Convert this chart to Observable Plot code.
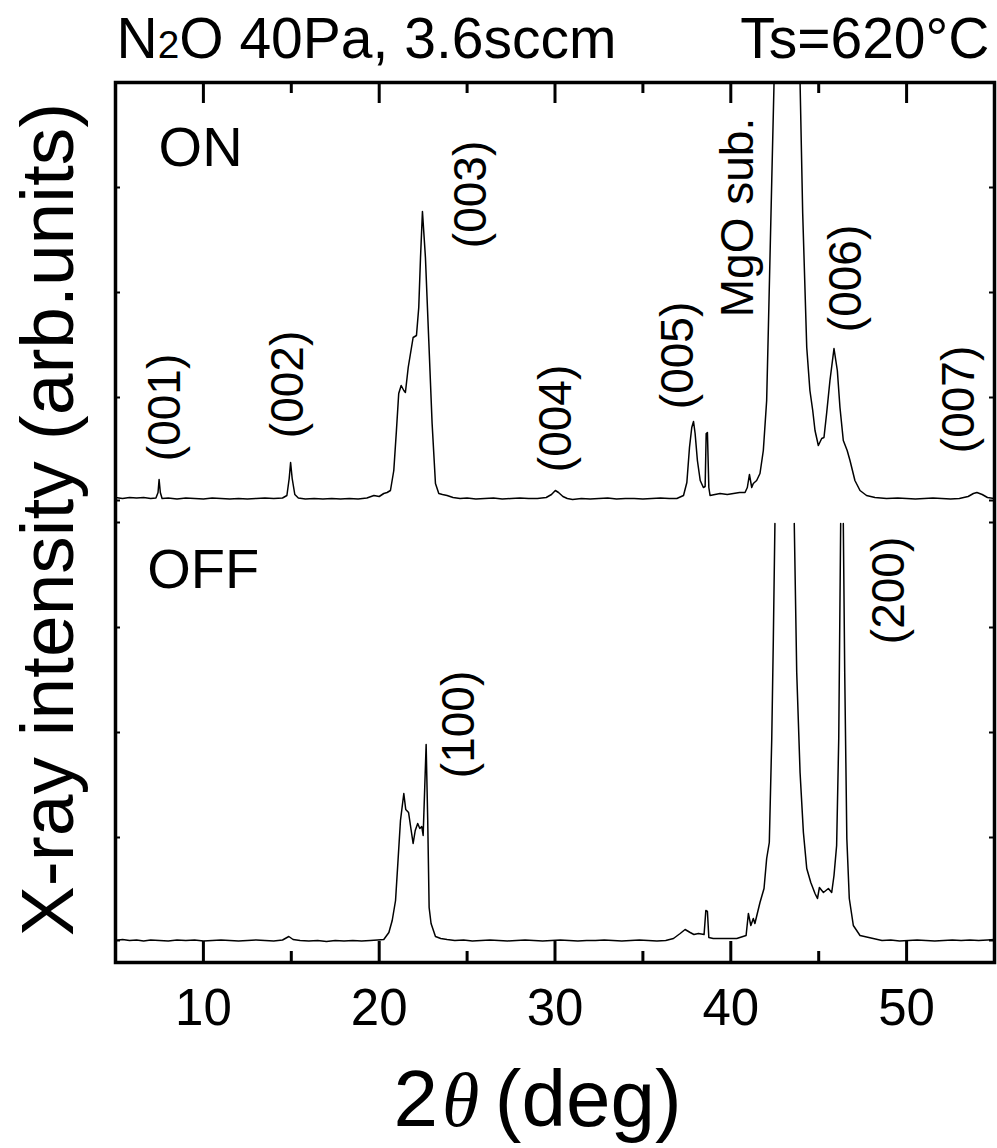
<!DOCTYPE html>
<html><head><meta charset="utf-8">
<script src="https://cdn.jsdelivr.net/npm/d3@7"></script>
<script src="https://cdn.jsdelivr.net/npm/@observablehq/plot@0.6"></script>
<style>html,body{margin:0;padding:0;background:#fff} svg{display:block}</style>
</head><body><div id="chart"></div>
<script>
// ---- data (2θ in degrees, intensity in arbitrary units above each trace's own baseline) ----
const onAngle = [5.0,5.4,5.8,6.2,6.6,7.0,7.3,7.42,7.48,7.55,7.65,8.0,8.5,9.0,9.5,10.0,10.5,11.0,11.5,12.0,12.5,13.0,13.5,14.0,14.5,14.75,14.88,14.96,15.05,15.2,15.4,15.8,16.3,16.8,17.3,17.8,18.3,18.8,19.3,19.7,20.0,20.26,20.45,20.64,20.83,20.98,21.11,21.25,21.40,21.49,21.65,21.78,21.93,22.12,22.25,22.35,22.46,22.63,22.82,23.01,23.2,23.39,23.6,23.86,24.2,24.6,25.0,25.5,26.0,26.5,27.0,27.5,28.0,28.5,29.0,29.5,29.8,30.02,30.2,30.45,30.7,31.0,31.5,32.0,32.5,33.0,33.5,34.0,34.5,35.0,35.5,36.0,36.5,36.93,37.31,37.50,37.65,37.78,37.88,37.97,38.1,38.26,38.44,38.54,38.6,38.67,38.75,38.82,39.1,39.39,39.8,40.15,40.5,40.81,40.94,41.06,41.19,41.28,41.47,41.66,41.85,42.04,42.13,42.33,42.46,43.2,43.94,44.09,44.32,44.5,44.66,44.79,44.98,45.17,45.3,45.45,45.64,45.87,46.06,46.21,46.4,46.62,46.78,47.06,47.35,47.72,48.2,48.86,49.5,50.0,50.5,51.0,51.5,52.0,52.5,53.0,53.5,53.8,54.0,54.3,54.6,55.0];
const onCounts = [1,0,1,0.5,1,0,0.5,6,19,6,0,0.5,-0.5,0.5,0,-0.5,0.5,0,-0.5,0,-0.5,0,0.5,0,0.5,3,20,36,20,4,0.5,-0.5,0,-0.5,0,-0.5,0,-0.5,0.5,3,2,5,6,8,28,68,105,113,108,106,131,145,161,163,191,241,287,241,158,75,15,5,4,3,1,0,0.5,-0.5,0,0.5,-0.5,0,0.5,0,0,1,4,8,6,2,0,-1,0,-0.5,0,0.5,-0.5,0,0,-0.5,0,0.5,0,0,3,16,51,71,77,65,38,18,11,12,65,66,11,3,4,5,4,5,6,6,11,24,11,15,18,25,48,98,165,318,416,1200,416,285,151,108,88,68,53,60,61,85,118,150,128,91,58,48,38,18,8,3,1,0,0.5,0,-0.5,0,0.5,0,-0.5,0,2,5,6,4,1,0];

const offAngle = [5.0,5.4,5.8,6.2,6.6,7.0,7.5,8.0,8.5,9.0,9.5,10.0,10.5,11.0,11.5,12.0,12.5,13.0,13.5,14.0,14.5,14.86,15.1,15.5,16.0,16.5,17.0,17.5,18.0,18.5,19.0,19.5,19.9,20.26,20.55,20.74,20.93,21.06,21.21,21.40,21.51,21.67,21.82,21.93,22.05,22.19,22.31,22.42,22.50,22.59,22.67,22.76,22.84,22.95,23.2,23.5,23.86,24.3,24.8,25.3,25.8,26.3,26.8,27.3,27.8,28.3,28.8,29.3,29.8,30.3,30.8,31.3,31.8,32.3,32.8,33.3,33.8,34.3,34.8,35.3,35.8,36.3,36.74,37.12,37.4,37.69,37.9,38.16,38.48,38.58,38.67,38.75,39.0,39.39,39.8,40.34,40.87,41.0,41.14,41.28,41.37,41.66,41.89,42.04,42.19,42.33,42.42,42.51,43.0,43.61,43.75,43.94,44.13,44.32,44.55,44.79,44.93,45.04,45.27,45.55,45.74,45.87,46.02,46.14,46.25,46.32,46.40,46.48,46.6,46.74,46.97,47.35,48.1,48.6,49.1,49.6,50.1,50.6,51.1,51.6,52.1,52.6,53.1,53.6,54.1,54.6,55.0];
// NaN = trace leaves the lower panel (off scale)
const offCounts = [0,1,0,0.5,-0.5,0.5,0,-0.5,0.5,0,0.5,-0.5,0,0.5,0,-0.5,0,0.5,0,-0.5,0.5,4,1,0,-0.5,0,-1,0,-0.5,0,-0.5,0,0.5,1,8,20,40,77,120,147,131,128,110,97,110,117,112,114,105,153,196,120,33,17,4,2,1,0,0.5,-0.5,0,0.5,0,-0.5,0,0.5,0,-0.5,0,0.5,0,-0.5,0,0,0.5,0,-0.5,0,0.5,0,-0.5,0,2,7,11,8,6,7,6,30,29,3,2,2,2,2,5,27,15,22,17,38,52,82,98,202,302,417,NaN,417,268,168,108,72,58,47,42,53,48,52,48,65,95,202,417,NaN,417,268,102,42,15,5,2,0,0.5,-0.5,0,0.5,0,-0.5,0,0.5,0,0.5,0,0.5,1];

const onBaseline = 464;   // vertical offset of the ON trace
const offBaseline = 22;   // vertical offset of the OFF trace

const majorTicks = [10, 20, 30, 40, 50];
const minorTicks = [5, 15, 25, 35, 45, 55];
const sideTicks = [22, 125, 230, 335, 440, 462, 565, 670, 775];

const peakNames = ["(001)", "(002)", "(003)", "(004)", "(005)", "MgO sub.", "(006)", "(007)", "(100)", "(200)"];
const peakAngle = [8.67, 15.65, 26.06, 30.90, 37.84, 41.25, 47.41, 53.82, 25.38, 49.85];
const peakLevel = [555, 578, 768, 544, 607, 745, 684, 563, 238, 372];

const sampleNames = ["ON", "OFF"];
const sampleAngle = [7.45, 6.8];
const sampleLevel = [797, 375];

const titleLeft = "N2O 40Pa, 3.6sccm";
const titleRight = "Ts=620\u00B0C";
const yTitle = "X-ray intensity (arb.units)";
const xTitle = "2\u03B8 (deg)";

// ---- tables built from the arrays ----
const onData = onAngle.map((a, i) => ({angle: a, value: onCounts[i] + onBaseline}));
const offData = offAngle.map((a, i) => ({angle: a, value: Number.isNaN(offCounts[i]) ? NaN : offCounts[i] + offBaseline}));
const peaks = peakNames.map((t, i) => ({t, angle: peakAngle[i], level: peakLevel[i]}));
const samples = sampleNames.map((t, i) => ({t, angle: sampleAngle[i], level: sampleLevel[i]}));

const W = 997, H = 1148;
const mL = 115, mR = 3, mT = 82, mB = 186;
const pw = W - mL - mR, ph = H - mT - mB;
const FONT = "'Liberation Sans', Arial, sans-serif";

const chart = Plot.plot({
  width: W, height: H,
  marginLeft: mL, marginRight: mR, marginTop: mT, marginBottom: mB,
  style: {fontFamily: FONT, background: "#fff", color: "#000", overflow: "visible"},
  x: {domain: [5, 55]},
  y: {domain: [0, 880], axis: null},
  marks: [
    Plot.line(offData, {x: "angle", y: "value", stroke: "#000", strokeWidth: 1.5, clip: true}),
    Plot.line(onData, {x: "angle", y: "value", stroke: "#000", strokeWidth: 1.5, clip: true}),
    // inward ticks bottom & top
    Plot.ruleX(majorTicks, {x: d => d, insetTop: ph - 21, stroke: "#000", strokeWidth: 3}),
    Plot.ruleX(minorTicks, {x: d => d, insetTop: ph - 11, stroke: "#000", strokeWidth: 3}),
    Plot.ruleX(majorTicks, {x: d => d, insetBottom: ph - 21, stroke: "#000", strokeWidth: 3}),
    Plot.ruleX(minorTicks, {x: d => d, insetBottom: ph - 11, stroke: "#000", strokeWidth: 3}),
    // small inward ticks left & right
    Plot.ruleY(sideTicks, {y: d => d, insetRight: pw - 5, stroke: "#000", strokeWidth: 2}),
    Plot.ruleY(sideTicks, {y: d => d, insetLeft: pw - 5, stroke: "#000", strokeWidth: 2}),
    Plot.frame({stroke: "#000", strokeWidth: 3.5}),
    Plot.axisX({ticks: majorTicks, tickSize: 0, tickPadding: 26, fontSize: 51, label: null, anchor: "bottom"}),
    // peak annotations
    Plot.text(peaks, {x: "angle", y: "level", text: "t", rotate: -90, textAnchor: "middle", lineAnchor: "bottom", fontSize: 46, fill: "#000"}),
    Plot.text(samples, {x: "angle", y: "level", text: "t", textAnchor: "start", lineAnchor: "bottom", fontSize: 56, fill: "#000"}),
    // titles
    Plot.text([titleLeft], {text: d => d, frameAnchor: "top-left", dx: 1, dy: -25, textAnchor: "start", lineAnchor: "bottom", fontSize: 57, fill: "#000", className: "title-left"}),
    Plot.text([titleRight], {text: d => d, frameAnchor: "top-right", dx: -5, dy: -25, textAnchor: "end", lineAnchor: "bottom", fontSize: 57, fill: "#000"}),
    Plot.text([yTitle], {text: d => d, frameAnchor: "left", dx: -43, dy: -3, rotate: -90, textAnchor: "middle", lineAnchor: "bottom", fontSize: 75, fill: "#000"}),
    Plot.text([xTitle], {text: d => d, frameAnchor: "bottom-left", dx: 278, dy: 163, textAnchor: "start", lineAnchor: "bottom", fontSize: 80, fill: "#000", className: "x-title"})
  ]
});
document.getElementById("chart").appendChild(chart);

// rich text: subscript in N2O, italic theta
function rich(el, parts) {
  if (!el) return;
  el.textContent = "";
  for (const [s, attrs] of parts) {
    const t = document.createElementNS("http://www.w3.org/2000/svg", "tspan");
    t.textContent = s;
    for (const k in attrs) t.setAttribute(k, attrs[k]);
    el.appendChild(t);
  }
}
rich(chart.querySelector("g.title-left text"), [["N", {}], ["2", {"font-size": "68%"}], ["O 40Pa, 3.6sccm", {"font-size": "57"}]]);
rich(chart.querySelector("g.x-title text"), [["2", {}], [" ", {"font-size": "14"}], ["\u03B8", {"font-style": "italic", "font-family": "'Liberation Serif', serif", "font-size": "76"}], [" ", {"font-size": "56"}], ["(deg)", {"font-size": "80"}]]);
</script>
</body></html>
